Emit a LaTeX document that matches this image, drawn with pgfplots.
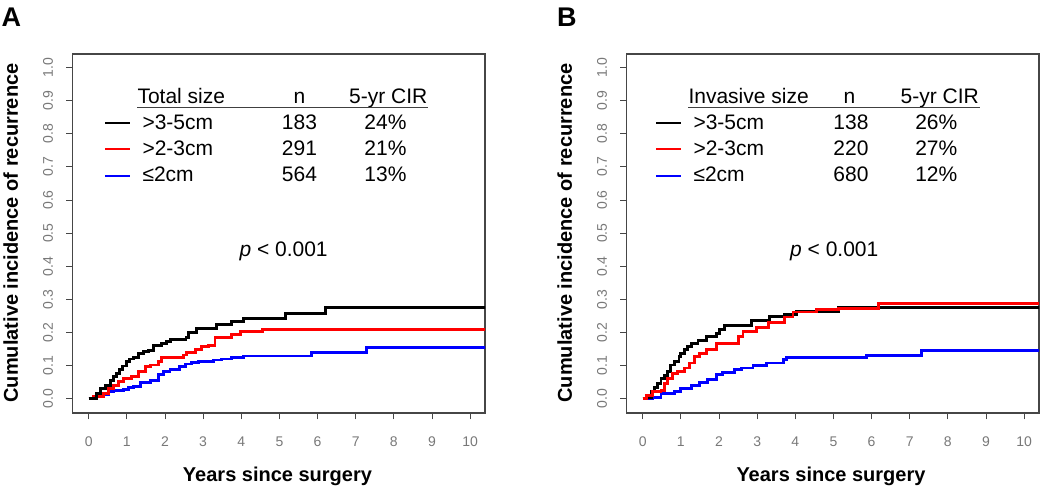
\documentclass[border=0pt]{standalone}
\usepackage{pgfplots}
\pgfplotsset{compat=1.18}
\usepackage{fontspec}
\setmainfont{Liberation Sans}
\definecolor{tickgray}{RGB}{120,120,120}
\definecolor{boxgray}{RGB}{70,70,70}
\pgfplotsset{
  kmstyle/.style={
    scale only axis, width=412.3pt, height=359pt,
    xmin=-0.42, xmax=10.39, ymin=-0.043, ymax=1.041,
    xtick={0,1,2,3,4,5,6,7,8,9,10},
    ytick={0,0.1,0.2,0.3,0.4,0.5,0.6,0.7,0.8,0.9,1.0},
    yticklabels={0.0,0.1,0.2,0.3,0.4,0.5,0.6,0.7,0.8,0.9,1.0},
    xtick pos=bottom, ytick pos=left,
    tick align=outside, major tick length=6.5pt,
    tick style={boxgray, line width=0.9pt},
    axis line style={boxgray, line width=1.1pt},
    /pgf/number format/assume math mode=true,
    ticklabel style={font=\fontsize{14}{16}\selectfont, text=tickgray, inner sep=0pt},
    xticklabel style={anchor=north},
    xticklabel shift=17.5pt,
    yticklabel style={rotate=90, anchor=south},
    yticklabel shift=12.9pt,
    clip=true,
  },
  curve/.style={const plot, line width=2.9pt, line join=miter},
}
\begin{document}
\begin{tikzpicture}
\useasboundingbox (0,0) rectangle (1050pt,487pt);
% ---------------- Panel A ----------------
\begin{axis}[kmstyle, at={(72.7pt,74pt)}, anchor=south west]
\addplot[curve, blue] coordinates {(0,0) (0.21,0.006) (0.34,0.014) (0.52,0.021) (0.65,0.026) (0.91,0.028) (1.04,0.033) (1.17,0.038) (1.35,0.048) (1.61,0.056) (1.83,0.072) (1.96,0.082) (2.13,0.089) (2.39,0.097) (2.53,0.105) (2.7,0.11) (2.88,0.112) (3.27,0.117) (3.49,0.12) (3.75,0.124) (4.06,0.129) (5.85,0.139) (7.29,0.155) (10.5,0.155)};
\addplot[curve, red] coordinates {(0,0) (0.12,0.008) (0.38,0.016) (0.52,0.031) (0.65,0.041) (0.78,0.051) (0.91,0.061) (1.13,0.068) (1.3,0.082) (1.48,0.097) (1.61,0.102) (1.83,0.112) (1.91,0.125) (2.48,0.132) (2.57,0.14) (2.79,0.149) (2.96,0.157) (3.14,0.162) (3.31,0.185) (3.75,0.195) (3.97,0.204) (4.56,0.21) (10.5,0.21)};
\addplot[curve, black] coordinates {(0,0) (0.21,0.016) (0.3,0.031) (0.43,0.041) (0.56,0.056) (0.65,0.066) (0.73,0.077) (0.8,0.089) (0.89,0.099) (1.0,0.112) (1.08,0.12) (1.17,0.125) (1.3,0.137) (1.43,0.142) (1.57,0.147) (1.7,0.161) (1.91,0.167) (2.03,0.174) (2.15,0.18) (2.55,0.185) (2.61,0.2) (2.83,0.212) (3.36,0.223) (3.75,0.233) (4.06,0.243) (5.15,0.258) (6.2,0.275) (10.5,0.275)};
\end{axis}
% ---------------- Panel B ----------------
\begin{axis}[kmstyle, at={(626.7pt,74pt)}, anchor=south west]
\addplot[curve, blue] coordinates {(0,0) (0.26,0.005) (0.48,0.016) (0.83,0.021) (1.0,0.031) (1.27,0.039) (1.49,0.049) (1.71,0.057) (1.93,0.072) (2.1,0.079) (2.41,0.087) (2.59,0.093) (2.89,0.1) (3.24,0.108) (3.68,0.118) (3.77,0.125) (5.87,0.13) (7.32,0.146) (10.5,0.146)};
\addplot[curve, black] coordinates {(0,0) (0.09,0.005) (0.22,0.021) (0.31,0.034) (0.39,0.047) (0.48,0.06) (0.57,0.07) (0.66,0.082) (0.74,0.102) (0.83,0.112) (0.95,0.128) (1.0,0.138) (1.1,0.148) (1.18,0.158) (1.27,0.168) (1.45,0.176) (1.68,0.189) (1.93,0.197) (2.02,0.21) (2.15,0.22) (2.85,0.237) (3.33,0.248) (3.72,0.255) (4.03,0.263) (5.13,0.275) (10.5,0.275)};
\addplot[curve, red] coordinates {(0,0) (0.09,0.011) (0.26,0.021) (0.48,0.026) (0.57,0.047) (0.66,0.062) (0.79,0.077) (0.92,0.082) (1.1,0.093) (1.23,0.108) (1.36,0.128) (1.49,0.138) (1.67,0.15) (1.93,0.166) (2.5,0.187) (2.63,0.204) (2.98,0.214) (3.29,0.23) (3.72,0.247) (3.94,0.262) (4.56,0.27) (5.13,0.272) (6.18,0.287) (10.5,0.287)};
\end{axis}
% ---------------- Panel letters and axis titles ----------------
\node[anchor=base west, inner sep=0pt, font=\bfseries\fontsize{27}{30}\selectfont] at (1.5pt,460.3pt) {A};
\node[anchor=base west, inner sep=0pt, font=\bfseries\fontsize{27}{30}\selectfont] at (557pt,460.3pt) {B};
\node[rotate=90, inner sep=0pt, font=\bfseries\fontsize{20}{24}\selectfont] at (10.8pt,254pt) {Cumulative incidence of recurrence};
\node[rotate=90, inner sep=0pt, font=\bfseries\fontsize{20}{24}\selectfont] at (564.7pt,254pt) {Cumulative incidence of recurrence};
\node[anchor=base, inner sep=0pt, font=\bfseries\fontsize{20}{24}\selectfont] at (277.5pt,5.3pt) {Years since surgery};
\node[anchor=base, inner sep=0pt, font=\bfseries\fontsize{20}{24}\selectfont] at (831pt,5.3pt) {Years since surgery};
% ---------------- Legend A ----------------
\begin{scope}[every node/.style={inner sep=0pt, font=\fontsize{21}{25}\selectfont}]
\node[anchor=base west] at (137.3pt,383pt) {Total size};
\node[anchor=base] at (299.5pt,383pt) {n};
\node[anchor=base] at (388.3pt,383pt) {5-yr CIR};
\draw[line width=1pt, black!75] (137.3pt,379.7pt) -- (428.3pt,379.7pt);
\draw[line width=2.3pt, black] (105pt,363.7pt) -- (130pt,363.7pt);
\draw[line width=2.3pt, red] (105pt,337.7pt) -- (130pt,337.7pt);
\draw[line width=2.3pt, blue] (105pt,311.3pt) -- (130pt,311.3pt);
\node[anchor=base west] at (142.3pt,357pt) {>3-5cm};
\node[anchor=base west] at (142.3pt,331pt) {>2-3cm};
\node[anchor=base west] at (142.3pt,305.3pt) {≤2cm};
\node[anchor=base] at (299.5pt,357pt) {183};
\node[anchor=base] at (299.5pt,331pt) {291};
\node[anchor=base] at (299.5pt,305.3pt) {564};
\node[anchor=base] at (385.5pt,357pt) {24\%};
\node[anchor=base] at (385.5pt,331pt) {21\%};
\node[anchor=base] at (385.5pt,305.3pt) {13\%};
\node[anchor=base west] at (239.3pt,230.3pt) {\textit{p} < 0.001};
% ---------------- Legend B ----------------
\node[anchor=base west] at (688.3pt,383pt) {Invasive size};
\node[anchor=base] at (849.5pt,383pt) {n};
\node[anchor=base] at (939.7pt,383pt) {5-yr CIR};
\draw[line width=1pt, black!75] (688.3pt,379.7pt) -- (980pt,379.7pt);
\draw[line width=2.3pt, black] (656pt,363.7pt) -- (680.7pt,363.7pt);
\draw[line width=2.3pt, red] (656pt,337.7pt) -- (680.7pt,337.7pt);
\draw[line width=2.3pt, blue] (656pt,311.3pt) -- (680.7pt,311.3pt);
\node[anchor=base west] at (693.3pt,357pt) {>3-5cm};
\node[anchor=base west] at (693.3pt,331pt) {>2-3cm};
\node[anchor=base west] at (693.3pt,305.3pt) {≤2cm};
\node[anchor=base] at (851pt,357pt) {138};
\node[anchor=base] at (851pt,331pt) {220};
\node[anchor=base] at (851pt,305.3pt) {680};
\node[anchor=base] at (936.3pt,357pt) {26\%};
\node[anchor=base] at (936.3pt,331pt) {27\%};
\node[anchor=base] at (936.3pt,305.3pt) {12\%};
\node[anchor=base west] at (790pt,230.3pt) {\textit{p} < 0.001};
\end{scope}
\end{tikzpicture}
\end{document}
